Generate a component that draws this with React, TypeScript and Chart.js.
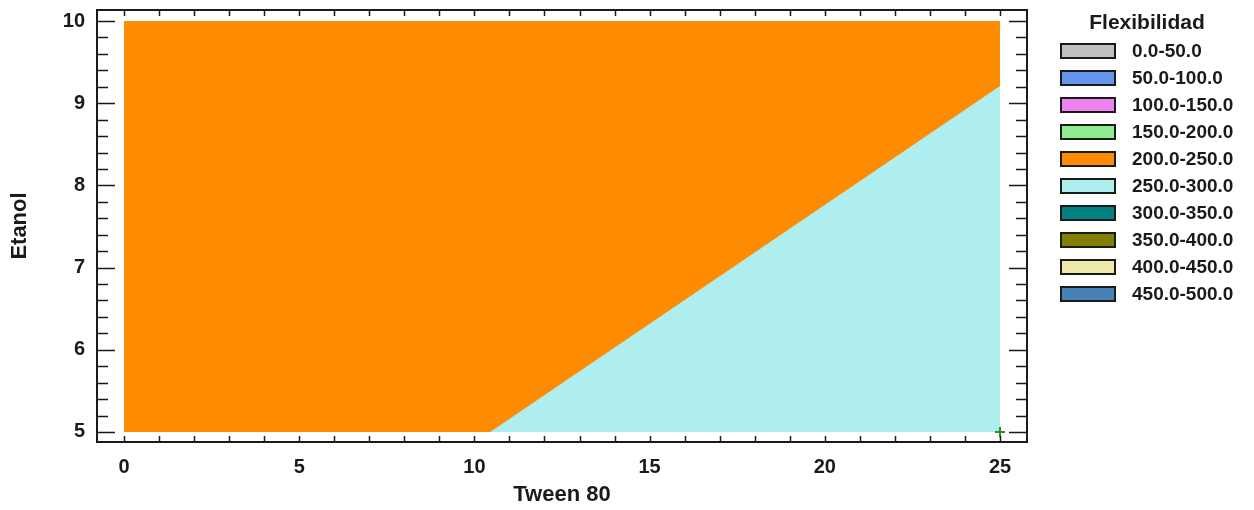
import { useEffect, useRef } from "react";
import { Chart, registerables } from "chart.js";

Chart.register(...registerables);

// Design space (Tween 80 on x, Etanol on y)
const tweenLimits = [0, 25];
const etanolLimits = [5, 10];

// Contour boundary between the 200-250 and 250-300 bands
const boundaryTween = [10.45, 25];
const boundaryEtanol = [5, 9.21];

// Marked design point
const markerTween = [25];
const markerEtanol = [5];

// Axis ticks
const xTickValues = [0, 5, 10, 15, 20, 25];
const yTickValues = [5, 6, 7, 8, 9, 10];
const xMinorStep = 1;
const yMinorStep = 0.2;

// Legend
const legendTitle = "Flexibilidad";
const legendLabels = [
  "0.0-50.0",
  "50.0-100.0",
  "100.0-150.0",
  "150.0-200.0",
  "200.0-250.0",
  "250.0-300.0",
  "300.0-350.0",
  "350.0-400.0",
  "400.0-450.0",
  "450.0-500.0",
];
const legendColors = [
  "#C0C0C0",
  "#6495ED",
  "#EE82EE",
  "#90EE90",
  "#FF8C00",
  "#AFEEEE",
  "#008080",
  "#808000",
  "#EEE8AA",
  "#4682B4",
];

const FONT = "'Liberation Sans', Arial, sans-serif";
const INK = "#1a1a1a";

// Frame around the plot with inward tick marks on all four sides
const framePlugin = {
  id: "frameTicks",
  afterDraw(chart: any) {
    const { ctx, chartArea: a, scales } = chart;
    const xs = scales.x;
    const ys = scales.y;
    ctx.save();
    ctx.strokeStyle = INK;
    ctx.lineWidth = 1.5;
    ctx.beginPath();
    const xCount = Math.round((tweenLimits[1] - tweenLimits[0]) / xMinorStep);
    for (let i = 0; i <= xCount; i++) {
      const v = tweenLimits[0] + i * xMinorStep;
      const px = Math.round(xs.getPixelForValue(v)) + 0.5;
      ctx.moveTo(px, a.bottom);
      ctx.lineTo(px, a.bottom - 6);
      ctx.moveTo(px, a.top);
      ctx.lineTo(px, a.top + 6);
    }
    const yCount = Math.round((etanolLimits[1] - etanolLimits[0]) / yMinorStep);
    for (let i = 0; i <= yCount; i++) {
      const v = etanolLimits[0] + i * yMinorStep;
      const major = i % 5 === 0;
      const len = major ? 18 : 11;
      const py = Math.round(ys.getPixelForValue(v)) + 0.5;
      ctx.moveTo(a.left, py);
      ctx.lineTo(a.left + len, py);
      ctx.moveTo(a.right, py);
      ctx.lineTo(a.right - len, py);
    }
    ctx.stroke();
    ctx.lineWidth = 2;
    ctx.strokeRect(a.left, a.top, a.right - a.left, a.bottom - a.top);
    ctx.restore();
  },
};

// Band legend at the right of the plot
const legendPlugin = {
  id: "bandLegend",
  afterDraw(chart: any) {
    const { ctx, chartArea: a } = chart;
    const boxLeft = a.right + 34;
    const boxW = 54;
    const boxH = 14;
    const textLeft = boxLeft + 71;
    const firstRow = 51;
    const rowGap = 27;
    ctx.save();
    ctx.fillStyle = INK;
    ctx.font = `bold 21px ${FONT}`;
    ctx.textAlign = "center";
    ctx.textBaseline = "middle";
    ctx.fillText(legendTitle, boxLeft + 86, 23);
    ctx.font = `bold 19px ${FONT}`;
    ctx.textAlign = "left";
    legendLabels.forEach((label, i) => {
      const cy = firstRow + i * rowGap;
      ctx.fillStyle = legendColors[i];
      ctx.fillRect(boxLeft, cy - boxH / 2, boxW, boxH);
      ctx.strokeStyle = INK;
      ctx.lineWidth = 2;
      ctx.strokeRect(boxLeft, cy - boxH / 2, boxW, boxH);
      ctx.fillStyle = INK;
      ctx.fillText(label, textLeft, cy + 1);
    });
    ctx.restore();
  },
};

export default function App() {
  const canvasRef = useRef<HTMLCanvasElement | null>(null);

  useEffect(() => {
    const canvas = canvasRef.current;
    if (!canvas) return;

    const xPad = 0.77;
    const yPadTop = 0.134;
    const yPadBottom = 0.122;

    const chart = new Chart(canvas, {
      type: "line",
      data: {
        datasets: [
          {
            label: "250.0-300.0",
            data: boundaryTween.map((x, i) => ({ x, y: boundaryEtanol[i] })),
            borderWidth: 0,
            borderColor: "rgba(0,0,0,0)",
            backgroundColor: legendColors[5],
            fill: { value: etanolLimits[0] },
            pointRadius: 0,
          },
          {
            label: "200.0-250.0",
            data: tweenLimits.map((x) => ({ x, y: etanolLimits[1] })),
            borderWidth: 0,
            borderColor: "rgba(0,0,0,0)",
            backgroundColor: legendColors[4],
            fill: { value: etanolLimits[0] },
            pointRadius: 0,
          },
          {
            label: "punto",
            data: markerTween.map((x, i) => ({ x, y: markerEtanol[i] })),
            showLine: false,
            pointStyle: "cross",
            pointRadius: 5,
            pointBorderWidth: 2,
            pointBorderColor: "#2E8B2E",
            borderColor: "#2E8B2E",
            order: -1,
          },
        ],
      },
      options: {
        responsive: false,
        animation: false,
        events: [],
        layout: { padding: { top: 10, right: 227, left: 0, bottom: 0 } },
        plugins: { legend: { display: false }, tooltip: { enabled: false } },
        scales: {
          x: {
            type: "linear",
            min: tweenLimits[0] - xPad,
            max: tweenLimits[1] + xPad,
            afterBuildTicks: (s: any) => {
              s.ticks = xTickValues.map((value) => ({ value }));
            },
            afterFit: (s: any) => {
              s.height = 68;
              s.paddingLeft = 0;
              s.paddingRight = 0;
              s.paddingTop = 0;
              s.paddingBottom = 0;
            },
            grid: { display: false, drawTicks: false },
            border: { display: false },
            ticks: {
              padding: 13,
              maxRotation: 0,
              autoSkip: false,
              color: INK,
              font: { family: FONT, size: 20, weight: "bold" },
            },
            title: {
              display: true,
              text: "Tween 80",
              color: INK,
              font: { family: FONT, size: 22, weight: "bold" },
              padding: { top: 0, bottom: 2 },
            },
          },
          y: {
            type: "linear",
            min: etanolLimits[0] - yPadBottom,
            max: etanolLimits[1] + yPadTop,
            afterBuildTicks: (s: any) => {
              s.ticks = yTickValues.map((value) => ({ value }));
            },
            afterFit: (s: any) => {
              s.width = 97;
              s.paddingLeft = 0;
              s.paddingRight = 0;
              s.paddingTop = 0;
              s.paddingBottom = 0;
            },
            grid: { display: false, drawTicks: false },
            border: { display: false },
            ticks: {
              padding: 12,
              autoSkip: false,
              color: INK,
              font: { family: FONT, size: 20, weight: "bold" },
            },
            title: {
              display: true,
              text: "Etanol",
              color: INK,
              font: { family: FONT, size: 22, weight: "bold" },
              padding: { top: 7, bottom: 0 },
            },
          },
        },
      },
      plugins: [framePlugin, legendPlugin],
    });

    return () => chart.destroy();
  }, []);

  return (
    <div style={{ position: "absolute", left: 0, top: 0, width: 1254, height: 510, background: "#fff" }}>
      <canvas ref={canvasRef} width={1254} height={510} style={{ display: "block" }} />
    </div>
  );
}
